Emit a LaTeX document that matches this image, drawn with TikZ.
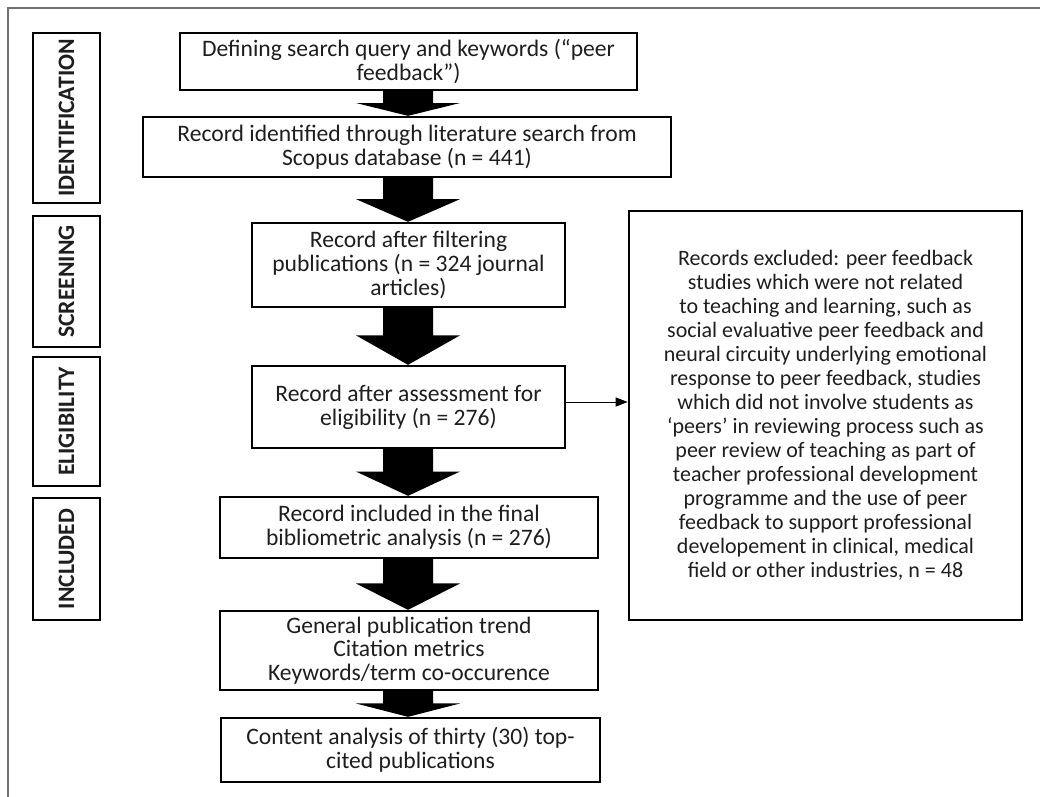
\documentclass[tikz,border=0pt]{standalone}
\usepackage{fontspec}
\setmainfont{Carlito}
\usetikzlibrary{arrows.meta,calc}
\definecolor{txt}{HTML}{1E1E1E}
\definecolor{frame}{HTML}{707070}
\newcommand{\blockarr}[2]{%
  \fill[black] let \p1=(#1.south), \p2=(#2.north), \n1={\y1+0.48*(\y2-\y1)} in
    (408bp-25bp,\y1) -- (408bp+25bp,\y1) -- (408bp+25bp,\n1) -- (408bp+52bp,\n1)
    -- (408bp,\y2) -- (408bp-52bp,\n1) -- (408bp-25bp,\n1) -- cycle;}
\begin{document}
\begin{tikzpicture}[x=1bp,y=-1bp,
  mainbox/.style={draw=black, line width=2.3bp, inner sep=0pt, align=center,
    text=txt, font=\fontsize{23.6bp}{23.7bp}\selectfont},
  sidebox/.style={draw=black, line width=2.6bp, inner sep=0pt, minimum width=67bp},
  sidelabel/.style={rotate=90, text=txt, font=\fontsize{23.6bp}{26bp}\selectfont\bfseries},
  thinarrow/.style={draw=black, line width=1bp, -{Triangle[length=12bp,width=9bp]}}]
\useasboundingbox (0,0) rectangle (1040,797);
% outer frame
\draw[frame, line width=2bp] (1040,8) -- (8,8) -- (8,797);
% side boxes
\node[sidebox, minimum height=170bp] (s1) at (66.5,118) {};
\node[sidebox, minimum height=131bp] (s2) at (66.5,281.5) {};
\node[sidebox, minimum height=129bp] (s3) at (66.5,421.5) {};
\node[sidebox, minimum height=122bp] (s4) at (66.5,559) {};
\node[sidelabel] (l1) at (s1.center) {IDENTIFICATION};
\node[sidelabel] (l2) at (s2.center) {SCREENING};
\node[sidelabel] (l3) at (s3.center) {ELIGIBILITY};
\node[sidelabel] (l4) at (s4.center) {INCLUDED};
% main boxes
\node[mainbox, minimum width=457bp, minimum height=57bp] (b1) at (408.5,61.5)
  {Defining search query and keywords (“peer\\feedback”)};
\node[mainbox, minimum width=528bp, minimum height=60bp] (b2) at (407,147)
  {Record identified through literature search from\\Scopus database (n = 441)};
\node[mainbox, minimum width=313bp, minimum height=84bp] (b3) at (408.5,265)
  {Record after filtering\\publications (n = 324 journal\\articles)};
\node[mainbox, minimum width=313bp, minimum height=82bp] (b4) at (408.5,407)
  {Record after assessment for\\eligibility (n = 276)};
\node[mainbox, minimum width=378bp, minimum height=61bp] (b5) at (409,527.5)
  {Record included in the final\\bibliometric analysis (n = 276)};
\node[mainbox, minimum width=378bp, minimum height=79bp] (b6) at (409,650.5)
  {General publication trend\\Citation metrics\\Keywords/term co-occurence};
\node[mainbox, minimum width=379bp, minimum height=64bp] (b7) at (410.5,750)
  {Content analysis of thirty (30) top-\\cited publications};
\node[mainbox, line width=2.6bp, minimum width=393bp, minimum height=409bp,
  font=\fontsize{22bp}{24bp}\selectfont] (ex) at (825.5,415.5)
  {Records excluded: peer feedback\\studies which were not related\\to teaching and learning, such as\\social evaluative peer feedback and\\neural circuity underlying emotional\\response to peer feedback, studies\\which did not involve students as\\‘peers’ in reviewing process such as\\peer review of teaching as part of\\teacher professional development\\programme and the use of peer\\feedback to support professional\\developement in clinical, medical\\field or other industries, n = 48};
% block arrows
\blockarr{b1}{b2}
\blockarr{b2}{b3}
\blockarr{b3}{b4}
\blockarr{b4}{b5}
\blockarr{b5}{b6}
\blockarr{b6}{b7}
% exclusion arrow
\draw[thinarrow] ([yshift=5bp]b4.east) -- ([yshift=5bp]b4.east -| ex.west);
\end{tikzpicture}
\end{document}
